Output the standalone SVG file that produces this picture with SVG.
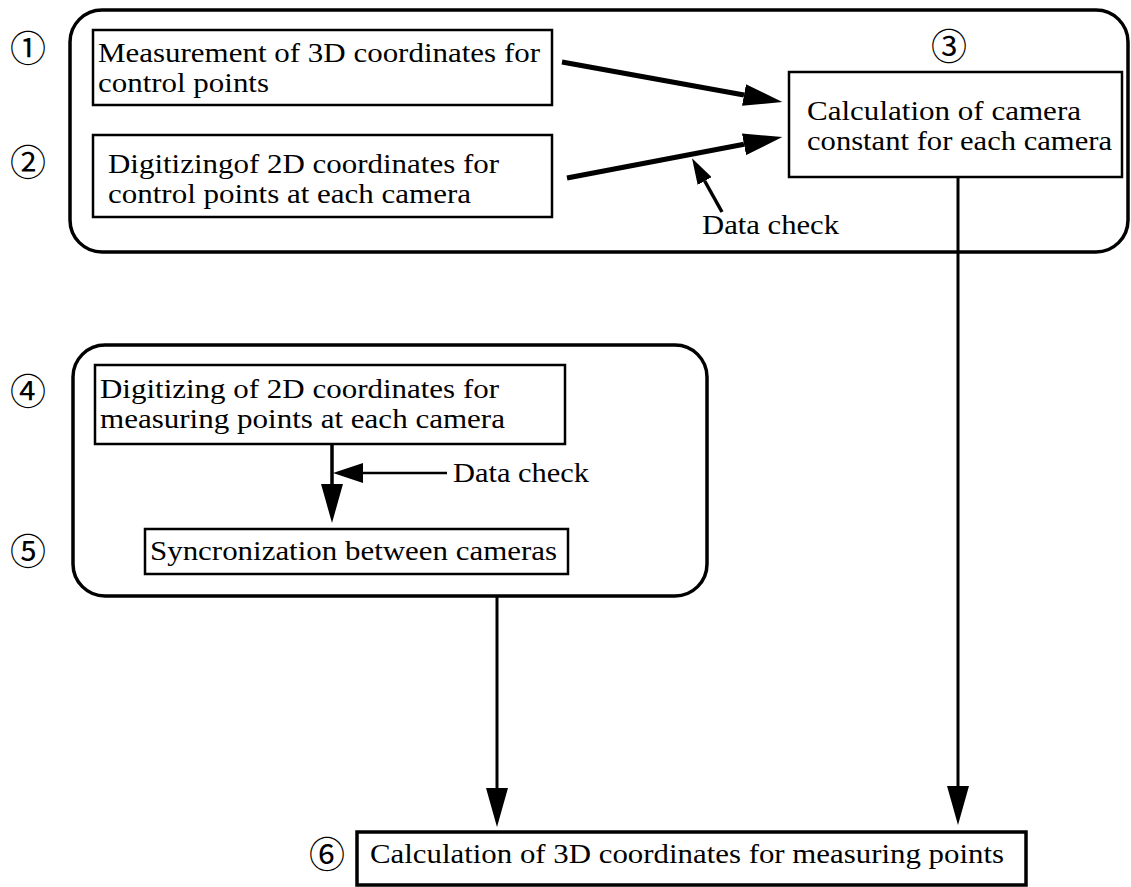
<svg xmlns="http://www.w3.org/2000/svg" width="1131" height="887" viewBox="0 0 1131 887">
<style>
.t{font-family:"Liberation Serif","Times New Roman",serif;font-size:27px;fill:#000}
.n{font-family:"Liberation Serif","Noto Sans CJK JP",serif;font-size:36px;fill:#000}
.grp{fill:none;stroke:#000;stroke-width:3.5}
.box{fill:#fff;stroke:#000;stroke-width:2.5}
.c{fill:none;stroke:#000;stroke-linecap:butt}
</style>
<defs>
<marker id="big" markerUnits="userSpaceOnUse" markerWidth="40" markerHeight="22" refX="0" refY="11" orient="auto"><path d="M0,0 L39,11 L0,22 z" fill="#000"/></marker>
<marker id="mid" markerUnits="userSpaceOnUse" markerWidth="31" markerHeight="20" refX="0" refY="10" orient="auto"><path d="M0,0 L30,10 L0,20 z" fill="#000"/></marker>
<marker id="sm" markerUnits="userSpaceOnUse" markerWidth="27" markerHeight="16" refX="0" refY="8" orient="auto"><path d="M0,0 L26,8 L0,16 z" fill="#000"/></marker>
</defs>
<rect width="1131" height="887" fill="#fff"/>

<g id="group1"><rect class="grp" x="70" y="10" width="1058" height="242" rx="32"/></g>
<g id="group2"><rect class="grp" x="73" y="345" width="634" height="251" rx="32"/></g>

<g id="node1">
<rect class="box" x="93" y="30" width="459" height="75"/>
<text class="t" x="98" y="62" textLength="442" lengthAdjust="spacingAndGlyphs">Measurement of 3D coordinates for</text>
<text class="t" x="98" y="92" textLength="171" lengthAdjust="spacingAndGlyphs">control points</text>
<text class="n" x="28" y="62" text-anchor="middle">①</text>
</g>
<g id="node2">
<rect class="box" x="93" y="135" width="459" height="82"/>
<text class="t" x="108" y="173" textLength="391" lengthAdjust="spacingAndGlyphs">Digitizingof 2D coordinates for</text>
<text class="t" x="108" y="203" textLength="363" lengthAdjust="spacingAndGlyphs">control points at each camera</text>
<text class="n" x="28" y="176" text-anchor="middle">②</text>
</g>
<g id="node3">
<rect class="box" x="789" y="72" width="333" height="105"/>
<text class="t" x="807" y="120" textLength="274" lengthAdjust="spacingAndGlyphs">Calculation of camera</text>
<text class="t" x="807" y="150" textLength="305" lengthAdjust="spacingAndGlyphs">constant for each camera</text>
<text class="n" x="949" y="60" text-anchor="middle">③</text>
</g>
<g id="node4">
<rect class="box" x="95" y="365" width="470" height="79"/>
<text class="t" x="100" y="398" textLength="399" lengthAdjust="spacingAndGlyphs">Digitizing of 2D coordinates for</text>
<text class="t" x="100" y="428" textLength="405" lengthAdjust="spacingAndGlyphs">measuring points at each camera</text>
<text class="n" x="28" y="405" text-anchor="middle">④</text>
</g>
<g id="node5">
<rect class="box" x="145" y="529" width="423" height="45"/>
<text class="t" x="150" y="560" textLength="407" lengthAdjust="spacingAndGlyphs">Syncronization between cameras</text>
<text class="n" x="28" y="565" text-anchor="middle">⑤</text>
</g>
<g id="node6">
<rect class="box" x="357" y="832" width="669" height="53" style="stroke-width:3.5"/>
<text class="t" x="370" y="863" textLength="634" lengthAdjust="spacingAndGlyphs">Calculation of 3D coordinates for measuring points</text>
<text class="n" x="327" y="868" text-anchor="middle">⑥</text>
</g>

<g id="connectors">
<line class="c" x1="562" y1="62" x2="744" y2="95" stroke-width="5" marker-end="url(#big)"/>
<line class="c" x1="567" y1="178" x2="744" y2="144.3" stroke-width="5" marker-end="url(#big)"/>
<line class="c" x1="722" y1="212" x2="704.7" y2="181" stroke-width="3.5" marker-end="url(#sm)"/>
<text class="t" x="702" y="234" textLength="137" lengthAdjust="spacingAndGlyphs">Data check</text>
<line class="c" x1="958" y1="177" x2="958" y2="786" stroke-width="3" marker-end="url(#big)"/>
<line class="c" x1="497" y1="596" x2="497" y2="788" stroke-width="3" marker-end="url(#big)"/>
<line class="c" x1="332" y1="444" x2="332" y2="484" stroke-width="3.5" marker-end="url(#big)"/>
<line class="c" x1="447" y1="473" x2="363" y2="473" stroke-width="2.5" marker-end="url(#mid)"/>
<text class="t" x="453" y="482" textLength="136" lengthAdjust="spacingAndGlyphs">Data check</text>
</g>
</svg>
